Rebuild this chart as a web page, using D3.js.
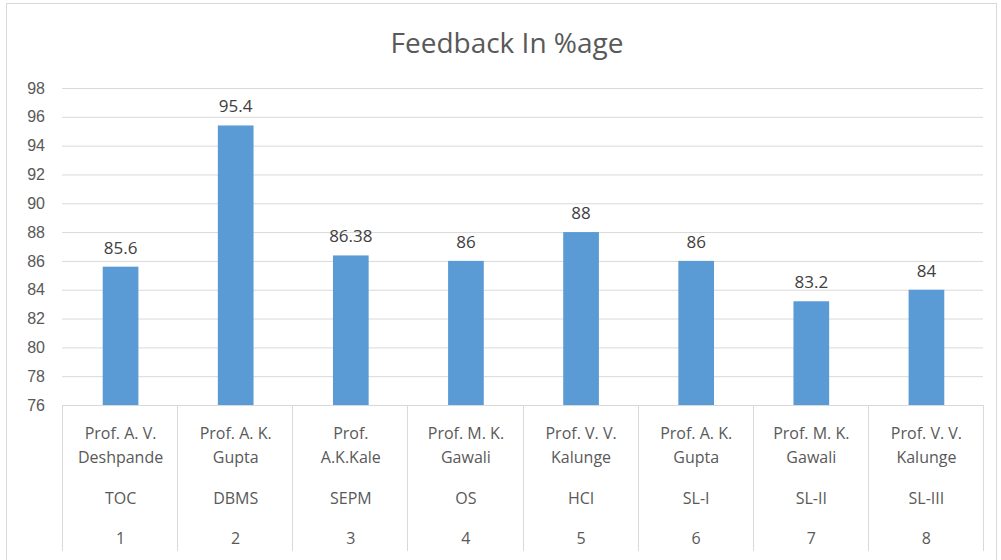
<!DOCTYPE html>
<html>
<head>
<meta charset="utf-8">
<script src="https://cdn.jsdelivr.net/npm/d3@7"></script>
<style>
    body { margin: 0; background: #fff; }
    svg { font-family: "Open Sans", sans-serif; }
    .tick text { fill: #595959; }
</style>
</head>
<body>
<svg id="chart" width="1001" height="560"></svg>
<script>
// Chart data
const professors = [
    ['Prof. A. V.', 'Deshpande'],
    ['Prof. A. K.', 'Gupta'],
    ['Prof.', 'A.K.Kale'],
    ['Prof. M. K.', 'Gawali'],
    ['Prof. V. V.', 'Kalunge'],
    ['Prof. A. K.', 'Gupta'],
    ['Prof. M. K.', 'Gawali'],
    ['Prof. V. V.', 'Kalunge']
];
const subjects = ['TOC', 'DBMS', 'SEPM', 'OS', 'HCI', 'SL-I', 'SL-II', 'SL-III'];
const serialNos = ['1', '2', '3', '4', '5', '6', '7', '8'];
const feedback = [85.6, 95.4, 86.38, 86, 88, 86, 83.2, 84];
const yTicks = [76, 78, 80, 82, 84, 86, 88, 90, 92, 94, 96, 98];

const svg = d3.select('#chart');
const gridColor = '#d9d9d9';
const textColor = '#595959';

// Outer chart frame
svg.append('rect')
    .attr('x', 6.5)
    .attr('y', 3.5)
    .attr('width', 990)
    .attr('height', 570)
    .attr('fill', 'none')
    .attr('stroke', gridColor);

// Title
svg.append('text')
    .attr('x', 507)
    .attr('y', 53)
    .attr('text-anchor', 'middle')
    .attr('font-size', 28)
    .attr('fill', textColor)
    .text('Feedback In %age');

const plot = {left: 62, right: 983, top: 88, bottom: 405};

const x = d3.scaleBand()
    .domain(d3.range(feedback.length))
    .range([plot.left, plot.right])
    .padding(0);

const y = d3.scaleLinear()
    .domain([76, 98])
    .range([plot.bottom, plot.top]);

// Y axis with gridlines
const yAxis = svg.append('g')
    .attr('transform', `translate(${plot.left},0)`)
    .call(d3.axisLeft(y).tickValues(yTicks).tickSize(-(plot.right - plot.left)).tickPadding(17));

yAxis.select('.domain').remove();
yAxis.selectAll('.tick line').attr('stroke', gridColor);
yAxis.selectAll('.tick text').attr('font-size', 16);

// Bars
const barWidth = x.bandwidth() * 0.31;

svg.selectAll('.bar')
    .data(feedback)
    .enter().append('rect')
    .attr('class', 'bar')
    .attr('x', (d, i) => x(i) + x.bandwidth() / 2 - barWidth / 2 + 1)
    .attr('y', d => y(d))
    .attr('width', barWidth)
    .attr('height', d => y(76) - y(d))
    .attr('fill', '#5b9bd5');

// Value labels
svg.selectAll('.value')
    .data(feedback)
    .enter().append('text')
    .attr('class', 'value')
    .attr('x', (d, i) => x(i) + x.bandwidth() / 2 + 1)
    .attr('y', d => y(d) - 13)
    .attr('text-anchor', 'middle')
    .attr('font-size', 17)
    .attr('fill', '#404040')
    .text(d => d);

// Multi-level category axis
const catAxis = svg.append('g');

catAxis.append('line')
    .attr('x1', plot.left).attr('x2', plot.right)
    .attr('y1', plot.bottom + 0.5).attr('y2', plot.bottom + 0.5)
    .attr('stroke', gridColor);

catAxis.selectAll('.sep')
    .data(d3.range(feedback.length + 1))
    .enter().append('line')
    .attr('class', 'sep')
    .attr('x1', i => Math.round(plot.left + i * x.bandwidth()) + 0.5)
    .attr('x2', i => Math.round(plot.left + i * x.bandwidth()) + 0.5)
    .attr('y1', plot.bottom)
    .attr('y2', 551)
    .attr('stroke', gridColor);

const labelRows = [
    {values: professors.map(p => p[0]), y: 439},
    {values: professors.map(p => p[1]), y: 463},
    {values: subjects, y: 504},
    {values: serialNos, y: 544}
];

labelRows.forEach(row => {
    catAxis.selectAll(null)
        .data(row.values)
        .enter().append('text')
        .attr('x', (d, i) => x(i) + x.bandwidth() / 2 + 1)
        .attr('y', row.y)
        .attr('text-anchor', 'middle')
        .attr('font-size', 16)
        .attr('fill', textColor)
        .text(d => d);
});
</script>
</body>
</html>
